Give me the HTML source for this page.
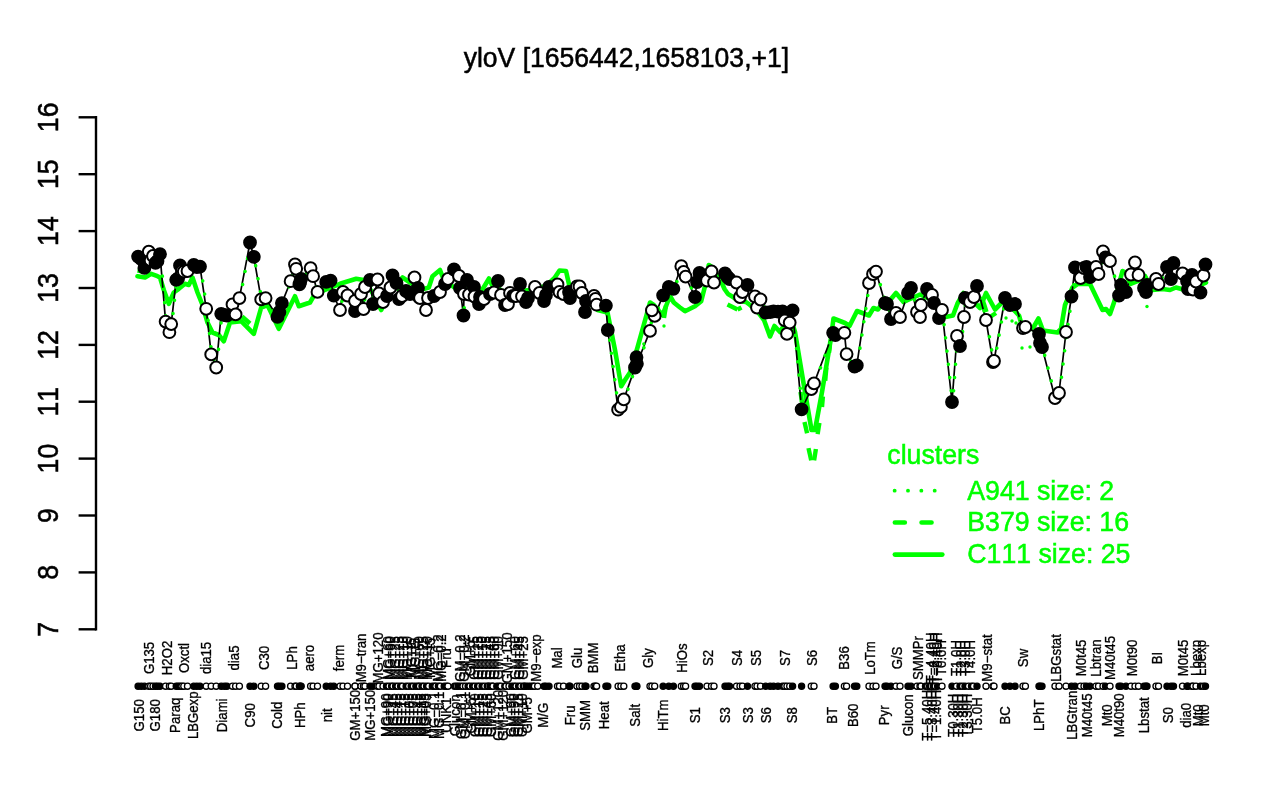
<!DOCTYPE html>
<html lang="en"><head><meta charset="utf-8"><title>yloV [1656442,1658103,+1]</title>
<style>html,body{margin:0;padding:0;background:#fff;overflow:hidden}svg{display:block}text{font-family:"Liberation Sans",sans-serif;font-kerning:none}</style></head><body>
<svg width="1280" height="800" viewBox="0 0 1280 800">
<rect width="1280" height="800" fill="#fff"/>
<text transform="translate(626.4 67.2) scale(1 1.05)" font-size="26.55" text-anchor="middle" fill="#000" stroke="#000" stroke-width="0.5">yloV [1656442,1658103,+1]</text>
<g stroke="#000" stroke-width="2.4" fill="none" stroke-linecap="butt">
<path d="M96 116.1V630.5"/>
<path d="M78.6 629.3H96"/>
<path d="M78.6 572.4H96"/>
<path d="M78.6 515.5H96"/>
<path d="M78.6 458.6H96"/>
<path d="M78.6 401.7H96"/>
<path d="M78.6 344.9H96"/>
<path d="M78.6 288.0H96"/>
<path d="M78.6 231.1H96"/>
<path d="M78.6 174.2H96"/>
<path d="M78.6 117.3H96"/>
</g>
<g font-size="26.7" text-anchor="middle" fill="#000" stroke="#000" stroke-width="0.5">
<text transform="translate(58.4 629.3) rotate(-90) scale(1 1.07)">7</text>
<text transform="translate(58.4 572.4) rotate(-90) scale(1 1.07)">8</text>
<text transform="translate(58.4 515.5) rotate(-90) scale(1 1.07)">9</text>
<text transform="translate(58.4 458.6) rotate(-90) scale(1 1.07)">10</text>
<text transform="translate(58.4 401.7) rotate(-90) scale(1 1.07)">11</text>
<text transform="translate(58.4 344.9) rotate(-90) scale(1 1.07)">12</text>
<text transform="translate(58.4 288.0) rotate(-90) scale(1 1.07)">13</text>
<text transform="translate(58.4 231.1) rotate(-90) scale(1 1.07)">14</text>
<text transform="translate(58.4 174.2) rotate(-90) scale(1 1.07)">15</text>
<text transform="translate(58.4 117.3) rotate(-90) scale(1 1.07)">16</text>
</g>
<polyline points="137.5,276.2 145.0,277.5 151.2,273.8 157.5,276.2 160.0,277.5 163.8,290.0 168.8,303.8 173.8,292.5 178.8,288.8 185.0,283.8 188.8,285.0 192.5,277.5 197.5,292.5 202.5,305.0 207.5,322.5 212.5,332.5 218.8,335.0 223.8,341.2 230.0,322.5 241.2,321.2 253.8,333.8 261.2,307.5 267.5,305.0 278.8,328.8 295.0,296.2 298.8,306.2 310.0,302.5 315.0,293.8 327.5,288.8 340.0,283.8 356.2,278.8 363.8,280.0 372.0,292.0 381.2,310.0 385.0,302.5 393.0,288.0 402.5,277.5 410.0,282.5 420.0,290.0 428.8,287.5 432.5,276.2 440.0,270.0 443.8,280.0 455.0,288.0 470.0,290.0 481.5,291.0 489.0,278.5 492.0,285.0 495.0,290.0 510.0,292.0 530.0,290.0 546.0,286.0 554.5,278.0 559.5,270.5 566.0,271.0 569.5,286.5 585.0,300.0 597.5,310.0 607.5,312.5 615.0,350.0 621.2,386.2 625.0,380.0 630.0,372.5 637.5,347.5 650.0,302.5 653.8,305.0 662.5,315.0 670.0,296.0 673.8,302.5 680.0,307.5 685.0,311.2 695.0,306.2 701.2,301.2 705.0,286.2 708.8,265.0 712.5,267.5 721.0,281.0 724.5,289.0 728.0,294.0 733.0,297.0 738.0,301.0 746.0,302.0 750.0,305.0 758.0,312.0 764.0,320.0 770.0,336.5 774.5,326.0 780.0,332.0 786.0,322.0 792.5,324.0 795.0,332.0 803.0,380.0 811.5,430.0 815.0,430.0 822.0,392.0 831.0,338.0 833.5,318.5 845.0,323.0 849.5,326.0 857.0,311.0 869.0,315.5 873.5,308.0 878.0,309.5 884.0,300.5 888.5,302.0 896.0,293.0 903.5,302.0 920.0,294.5 932.0,300.0 945.5,317.0 953.0,315.5 957.5,303.5 963.5,293.0 972.0,300.0 980.0,308.0 986.0,293.0 995.0,309.5 1002.5,302.0 1010.0,306.0 1019.0,315.5 1022.0,326.0 1032.5,329.0 1038.5,318.5 1043.0,330.5 1057.5,332.5 1061.0,329.0 1065.0,305.0 1072.5,287.5 1077.5,284.0 1090.0,284.0 1102.5,310.0 1106.0,309.0 1110.0,314.0 1114.0,302.5 1122.5,271.0 1126.0,272.5 1130.0,284.0 1140.0,280.0 1145.0,276.0 1152.5,290.0 1162.5,289.0 1170.0,290.0 1176.0,287.5 1185.0,290.0 1195.0,287.0 1206.0,282.5" fill="none" stroke="#00ff00" stroke-width="4.6" stroke-linejoin="round" stroke-linecap="round"/>
<g stroke="#00ff00" stroke-width="4.4" fill="none" stroke-linecap="butt">
<path d="M804.5 421.9L807.1 433.3"/>
<path d="M808.5 448.1L811.2 460.4"/>
<path d="M815.9 449L814.1 460.4"/>
<path d="M819.4 422.8L817.6 434.1"/>
<path d="M822.9 396.5L822 407"/>
<path d="M826.4 367.6L825.2 380.8"/>
<path d="M829.9 345.8L829 352.8"/>
<path d="M800.5 392L802.3 404"/>
<path d="M727.5 304.5L737.5 309.5"/>
<path d="M737.5 309.5L741.5 307.5"/>
<path d="M137.5 270.5L147 272"/>
<path d="M242 316.5L250 323.5"/>
<path d="M666 305.6L664 318"/>
<path d="M983 301L986.5 312"/>
<path d="M990 317L996 313"/>
</g>
<polyline points="138.1,256.6 141.2,259.1 144.4,267.9 148.8,251.6 150.6,260.4 153.0,256.0 155.5,262.9 157.5,261.0 160.0,254.1 165.6,321.6 169.4,332.2 171.2,324.1 176.2,279.8 178.1,278.5 180.0,265.4 181.9,271.0 183.8,271.6 187.5,271.0 193.8,264.8 196.9,267.2 200.0,266.6 206.2,308.8 211.2,354.4 216.2,367.5 221.2,313.8 224.4,315.0 226.9,315.6 232.5,304.4 235.6,314.4 239.4,298.1 250.0,242.5 253.8,256.9 261.2,299.4 265.6,298.1 277.5,316.9 279.4,311.9 281.9,303.1 290.6,281.2 295.0,264.4 296.2,268.8 299.4,284.4 300.2,281.9 301.2,278.8 310.6,268.1 313.1,276.2 317.5,291.9 326.2,281.9 330.6,280.6 333.8,295.6 340.0,310.0 343.0,292.0 347.5,295.5 355.0,311.0 355.0,301.0 361.0,294.0 363.5,309.0 365.0,287.0 370.0,280.0 373.0,304.0 377.5,279.5 379.0,293.5 383.0,302.0 387.0,296.0 390.5,287.5 392.5,275.5 396.5,283.0 399.0,299.0 402.0,296.0 406.0,291.0 410.0,294.0 414.5,277.5 418.0,288.0 419.0,297.0 420.0,298.0 426.0,310.0 428.0,298.0 434.0,296.0 440.0,292.0 445.0,284.0 448.0,279.0 454.0,269.5 459.0,276.0 460.0,288.0 463.5,315.5 464.0,294.0 467.0,280.0 469.0,294.5 474.0,287.0 474.5,296.5 479.0,304.0 480.0,297.0 484.0,299.0 490.0,294.0 494.0,292.5 498.0,281.0 501.0,295.0 505.0,305.0 508.0,304.0 510.0,293.0 513.0,296.0 516.0,296.0 520.0,284.0 522.0,296.5 526.0,302.0 528.0,298.0 535.0,287.0 539.5,293.0 544.0,301.0 546.0,295.0 549.0,287.0 557.5,284.5 559.5,292.0 563.5,294.0 569.0,292.0 570.0,298.0 577.0,286.5 579.5,286.5 582.0,293.0 585.0,312.0 586.0,301.0 594.0,296.0 595.5,299.0 596.6,304.7 605.9,305.6 607.8,330.0 618.1,409.7 620.9,406.9 623.8,399.4 635.0,367.5 636.5,357.2 636.9,363.8 650.0,330.9 651.9,310.3 654.7,315.9 663.1,295.3 668.8,286.9 673.4,288.8 681.3,266.2 683.6,271.9 685.6,276.6 695.0,297.0 697.0,282.0 699.5,273.0 707.0,280.5 711.5,271.5 714.0,282.5 725.0,273.5 727.5,277.0 729.5,279.0 736.5,282.5 740.0,297.0 742.5,292.0 747.5,285.0 755.0,296.5 757.0,307.5 760.5,299.5 765.6,312.5 770.1,312.1 773.5,311.4 778.0,311.6 782.5,311.4 784.8,320.4 787.0,333.9 789.7,322.6 792.6,310.3 801.6,409.3 811.3,389.0 814.0,383.4 833.1,332.8 835.4,335.0 844.4,332.8 846.6,354.1 854.5,366.5 856.8,365.4 869.0,283.0 873.0,274.0 876.0,271.6 885.0,303.0 887.0,304.0 891.0,319.0 896.0,313.0 900.0,317.0 908.0,293.0 911.0,288.0 917.0,312.0 920.0,317.0 921.0,305.0 927.0,289.0 932.0,295.0 934.0,303.0 939.0,318.0 942.0,310.0 952.0,402.0 957.0,336.0 960.0,346.0 964.0,317.0 965.0,298.0 970.0,302.0 974.0,297.0 977.0,286.0 986.0,320.0 993.0,362.0 994.0,361.0 1005.0,298.0 1010.0,305.0 1015.0,304.0 1023.0,328.0 1025.4,327.0 1039.0,334.0 1040.0,343.0 1042.0,347.0 1055.0,398.0 1059.0,393.0 1066.0,332.0 1071.5,296.5 1075.0,267.5 1080.5,278.0 1084.0,268.0 1086.5,267.0 1090.0,277.0 1096.0,267.0 1098.5,274.0 1103.0,251.5 1105.5,257.5 1110.0,261.0 1119.0,295.5 1121.0,285.0 1126.0,292.0 1131.0,274.5 1135.0,262.5 1138.5,275.0 1144.0,288.0 1146.0,292.0 1147.0,285.0 1156.0,279.0 1158.5,284.0 1167.0,267.0 1171.0,279.0 1173.5,263.0 1182.5,273.5 1187.0,281.0 1188.0,289.0 1192.0,275.0 1193.0,289.5 1196.0,281.5 1200.5,292.5 1203.5,275.5 1205.5,264.5" fill="none" stroke="#000" stroke-width="1.7" stroke-linejoin="round"/>
<polyline points="138.7,256.6 141.8,259.1 145.0,267.9 149.4,253.6 151.2,260.4 153.6,256.0 156.1,262.9 158.1,261.0 160.6,254.1 166.2,321.6 170.0,334.2 171.8,324.1 176.8,279.8 178.7,278.5 180.6,265.4 182.5,271.0 184.4,271.6 188.1,273.0 194.4,264.8 197.5,267.2 200.6,266.6 206.8,308.8 211.8,354.4 216.8,367.5 221.8,315.8 225.0,315.0 227.5,315.6 233.1,304.4 236.2,314.4 240.0,298.1 250.6,242.5 254.4,258.9 261.8,299.4 266.2,298.1 278.1,316.9 280.0,311.9 282.5,303.1 291.2,281.2 295.6,266.4 296.8,268.8 300.0,284.4 300.8,281.9 301.8,278.8 311.2,268.1 313.7,276.2 318.1,293.9 326.8,281.9 331.2,280.6 334.4,295.6 340.6,310.0 343.6,292.0 348.1,295.5 355.6,313.0 355.6,301.0 361.6,294.0 364.1,309.0 365.6,287.0 370.6,280.0 373.6,304.0 378.1,281.5 379.6,293.5 383.6,302.0 387.6,296.0 391.1,287.5 393.1,275.5 397.1,283.0 399.6,301.0 402.6,296.0 406.6,291.0 410.6,294.0 415.1,277.5 418.6,288.0 419.6,297.0 420.6,300.0 426.6,310.0 428.6,298.0 434.6,296.0 440.6,292.0 445.6,284.0 448.6,279.0 454.6,271.5 459.6,276.0 460.6,288.0 464.1,315.5 464.6,294.0 467.6,280.0 469.6,294.5 474.6,289.0 475.1,296.5 479.6,304.0 480.6,297.0 484.6,299.0 490.6,294.0 494.6,292.5 498.6,283.0 501.6,295.0 505.6,305.0 508.6,304.0 510.6,293.0 513.6,296.0 516.6,296.0 520.6,286.0 522.6,296.5 526.6,302.0 528.6,298.0 535.6,287.0 540.1,293.0 544.6,301.0 546.6,297.0 549.6,287.0 558.1,284.5 560.1,292.0 564.1,294.0 569.6,292.0 570.6,298.0 577.6,288.5 580.1,286.5 582.6,293.0 585.6,312.0 586.6,301.0 594.6,296.0 596.1,299.0 597.2,306.7 606.5,305.6 608.4,330.0 618.7,409.7 621.5,406.9 624.4,399.4 635.6,367.5 637.1,359.2 637.5,363.8 650.6,330.9 652.5,310.3 655.3,315.9 663.7,295.3 669.4,286.9 674.0,290.8 681.9,266.2 684.2,271.9 686.2,276.6 695.6,297.0 697.6,282.0 700.1,273.0 707.6,282.5 712.1,271.5 714.6,282.5 725.6,273.5 728.1,277.0 730.1,279.0 737.1,282.5 740.6,299.0 743.1,292.0 748.1,285.0 755.6,296.5 757.6,307.5 761.1,299.5 766.2,312.5 770.7,314.1 774.1,311.4 778.6,311.6 783.1,311.4 785.4,320.4 787.6,333.9 790.3,322.6 793.2,312.3 802.2,409.3 811.9,389.0 814.6,383.4 833.7,332.8 836.0,335.0 845.0,332.8 847.2,356.1 855.1,366.5 857.4,365.4 869.6,283.0 873.6,274.0 876.6,271.6 885.6,303.0 887.6,306.0 891.6,319.0 896.6,313.0 900.6,317.0 908.6,293.0 911.6,288.0 917.6,312.0 920.6,319.0 921.6,305.0 927.6,289.0 932.6,295.0 934.6,303.0 939.6,318.0 942.6,310.0 952.6,404.0 957.6,336.0 960.6,346.0 964.6,317.0 965.6,298.0 970.6,302.0 974.6,297.0 977.6,288.0 986.6,320.0 993.6,362.0 994.6,361.0 1005.6,298.0 1010.6,305.0 1015.6,304.0 1023.6,330.0 1026.0,327.0 1039.6,334.0 1040.6,343.0 1042.6,347.0 1055.6,398.0 1059.6,393.0 1066.6,334.0 1072.1,296.5 1075.6,267.5 1081.1,278.0 1084.6,268.0 1087.1,267.0 1090.6,277.0 1096.6,269.0 1099.1,274.0 1103.6,251.5 1106.1,257.5 1110.6,261.0 1119.6,295.5 1121.6,285.0 1126.6,294.0 1131.6,274.5 1135.6,262.5 1139.1,275.0 1144.6,288.0 1146.6,292.0 1147.6,285.0 1156.6,281.0 1159.1,284.0 1167.6,267.0 1171.6,279.0 1174.1,263.0 1183.1,273.5 1187.6,281.0 1188.6,291.0 1192.6,275.0 1193.6,289.5 1196.6,281.5 1201.1,292.5 1204.1,275.5 1206.1,264.5" fill="none" stroke="#00ff00" stroke-width="3.5" stroke-dasharray="0.1 13.2" stroke-linecap="round" stroke-linejoin="round"/>
<circle cx="1006" cy="318" r="1.7" fill="#00ff00"/>
<circle cx="1012" cy="321" r="1.7" fill="#00ff00"/>
<circle cx="1016" cy="323" r="1.7" fill="#00ff00"/>
<circle cx="1022" cy="348" r="1.7" fill="#00ff00"/>
<circle cx="1030" cy="347" r="1.7" fill="#00ff00"/>
<circle cx="1147" cy="306.5" r="1.7" fill="#00ff00"/>
<circle cx="664" cy="326" r="1.7" fill="#00ff00"/>
<circle cx="643.8" cy="344" r="1.7" fill="#00ff00"/>
<g stroke="#000" stroke-width="2">
<circle cx="138.1" cy="256.6" r="5.9" fill="#000"/>
<circle cx="141.2" cy="259.1" r="5.9" fill="#000"/>
<circle cx="144.4" cy="267.9" r="5.9" fill="#000"/>
<circle cx="148.8" cy="251.6" r="5.9" fill="#fff"/>
<circle cx="150.6" cy="260.4" r="5.9" fill="#fff"/>
<circle cx="153.0" cy="256.0" r="5.9" fill="#fff"/>
<circle cx="155.5" cy="262.9" r="5.9" fill="#000"/>
<circle cx="157.5" cy="261.0" r="5.9" fill="#000"/>
<circle cx="160.0" cy="254.1" r="5.9" fill="#000"/>
<circle cx="165.6" cy="321.6" r="5.9" fill="#fff"/>
<circle cx="169.4" cy="332.2" r="5.9" fill="#fff"/>
<circle cx="171.2" cy="324.1" r="5.9" fill="#fff"/>
<circle cx="176.2" cy="279.8" r="5.9" fill="#000"/>
<circle cx="178.1" cy="278.5" r="5.9" fill="#000"/>
<circle cx="180.0" cy="265.4" r="5.9" fill="#000"/>
<circle cx="181.9" cy="271.0" r="5.9" fill="#fff"/>
<circle cx="183.8" cy="271.6" r="5.9" fill="#fff"/>
<circle cx="187.5" cy="271.0" r="5.9" fill="#fff"/>
<circle cx="193.8" cy="264.8" r="5.9" fill="#000"/>
<circle cx="196.9" cy="267.2" r="5.9" fill="#000"/>
<circle cx="200.0" cy="266.6" r="5.9" fill="#000"/>
<circle cx="206.2" cy="308.8" r="5.9" fill="#fff"/>
<circle cx="211.2" cy="354.4" r="5.9" fill="#fff"/>
<circle cx="216.2" cy="367.5" r="5.9" fill="#fff"/>
<circle cx="221.2" cy="313.8" r="5.9" fill="#000"/>
<circle cx="224.4" cy="315.0" r="5.9" fill="#000"/>
<circle cx="226.9" cy="315.6" r="5.9" fill="#000"/>
<circle cx="232.5" cy="304.4" r="5.9" fill="#fff"/>
<circle cx="235.6" cy="314.4" r="5.9" fill="#fff"/>
<circle cx="239.4" cy="298.1" r="5.9" fill="#fff"/>
<circle cx="250.0" cy="242.5" r="5.9" fill="#000"/>
<circle cx="253.8" cy="256.9" r="5.9" fill="#000"/>
<circle cx="261.2" cy="299.4" r="5.9" fill="#fff"/>
<circle cx="265.6" cy="298.1" r="5.9" fill="#fff"/>
<circle cx="277.5" cy="316.9" r="5.9" fill="#000"/>
<circle cx="279.4" cy="311.9" r="5.9" fill="#000"/>
<circle cx="281.9" cy="303.1" r="5.9" fill="#000"/>
<circle cx="290.6" cy="281.2" r="5.9" fill="#fff"/>
<circle cx="295.0" cy="264.4" r="5.9" fill="#fff"/>
<circle cx="296.2" cy="268.8" r="5.9" fill="#fff"/>
<circle cx="299.4" cy="284.4" r="5.9" fill="#000"/>
<circle cx="300.2" cy="281.9" r="5.9" fill="#000"/>
<circle cx="301.2" cy="278.8" r="5.9" fill="#000"/>
<circle cx="310.6" cy="268.1" r="5.9" fill="#fff"/>
<circle cx="313.1" cy="276.2" r="5.9" fill="#fff"/>
<circle cx="317.5" cy="291.9" r="5.9" fill="#fff"/>
<circle cx="326.2" cy="281.9" r="5.9" fill="#000"/>
<circle cx="330.6" cy="280.6" r="5.9" fill="#000"/>
<circle cx="333.8" cy="295.6" r="5.9" fill="#000"/>
<circle cx="340.0" cy="310.0" r="5.9" fill="#fff"/>
<circle cx="343.0" cy="292.0" r="5.9" fill="#fff"/>
<circle cx="347.5" cy="295.5" r="5.9" fill="#fff"/>
<circle cx="355.0" cy="311.0" r="5.9" fill="#000"/>
<circle cx="355.0" cy="301.0" r="5.9" fill="#fff"/>
<circle cx="361.0" cy="294.0" r="5.9" fill="#fff"/>
<circle cx="363.5" cy="309.0" r="5.9" fill="#fff"/>
<circle cx="365.0" cy="287.0" r="5.9" fill="#fff"/>
<circle cx="370.0" cy="280.0" r="5.9" fill="#000"/>
<circle cx="373.0" cy="304.0" r="5.9" fill="#000"/>
<circle cx="377.5" cy="279.5" r="5.9" fill="#fff"/>
<circle cx="379.0" cy="293.5" r="5.9" fill="#fff"/>
<circle cx="383.0" cy="302.0" r="5.9" fill="#fff"/>
<circle cx="387.0" cy="296.0" r="5.9" fill="#000"/>
<circle cx="390.5" cy="287.5" r="5.9" fill="#fff"/>
<circle cx="392.5" cy="275.5" r="5.9" fill="#000"/>
<circle cx="396.5" cy="283.0" r="5.9" fill="#000"/>
<circle cx="399.0" cy="299.0" r="5.9" fill="#000"/>
<circle cx="402.0" cy="296.0" r="5.9" fill="#fff"/>
<circle cx="406.0" cy="291.0" r="5.9" fill="#000"/>
<circle cx="410.0" cy="294.0" r="5.9" fill="#000"/>
<circle cx="414.5" cy="277.5" r="5.9" fill="#fff"/>
<circle cx="418.0" cy="288.0" r="5.9" fill="#000"/>
<circle cx="419.0" cy="297.0" r="5.9" fill="#000"/>
<circle cx="420.0" cy="298.0" r="5.9" fill="#fff"/>
<circle cx="426.0" cy="310.0" r="5.9" fill="#fff"/>
<circle cx="428.0" cy="298.0" r="5.9" fill="#fff"/>
<circle cx="434.0" cy="296.0" r="5.9" fill="#000"/>
<circle cx="440.0" cy="292.0" r="5.9" fill="#fff"/>
<circle cx="445.0" cy="284.0" r="5.9" fill="#000"/>
<circle cx="448.0" cy="279.0" r="5.9" fill="#fff"/>
<circle cx="454.0" cy="269.5" r="5.9" fill="#000"/>
<circle cx="459.0" cy="276.0" r="5.9" fill="#fff"/>
<circle cx="460.0" cy="288.0" r="5.9" fill="#000"/>
<circle cx="463.5" cy="315.5" r="5.9" fill="#000"/>
<circle cx="464.0" cy="294.0" r="5.9" fill="#fff"/>
<circle cx="467.0" cy="280.0" r="5.9" fill="#000"/>
<circle cx="469.0" cy="294.5" r="5.9" fill="#fff"/>
<circle cx="474.0" cy="287.0" r="5.9" fill="#000"/>
<circle cx="474.5" cy="296.5" r="5.9" fill="#fff"/>
<circle cx="479.0" cy="304.0" r="5.9" fill="#000"/>
<circle cx="480.0" cy="297.0" r="5.9" fill="#000"/>
<circle cx="484.0" cy="299.0" r="5.9" fill="#fff"/>
<circle cx="490.0" cy="294.0" r="5.9" fill="#000"/>
<circle cx="494.0" cy="292.5" r="5.9" fill="#fff"/>
<circle cx="498.0" cy="281.0" r="5.9" fill="#000"/>
<circle cx="501.0" cy="295.0" r="5.9" fill="#fff"/>
<circle cx="505.0" cy="305.0" r="5.9" fill="#000"/>
<circle cx="508.0" cy="304.0" r="5.9" fill="#fff"/>
<circle cx="510.0" cy="293.0" r="5.9" fill="#fff"/>
<circle cx="513.0" cy="296.0" r="5.9" fill="#000"/>
<circle cx="516.0" cy="296.0" r="5.9" fill="#fff"/>
<circle cx="520.0" cy="284.0" r="5.9" fill="#000"/>
<circle cx="522.0" cy="296.5" r="5.9" fill="#fff"/>
<circle cx="526.0" cy="302.0" r="5.9" fill="#000"/>
<circle cx="528.0" cy="298.0" r="5.9" fill="#000"/>
<circle cx="535.0" cy="287.0" r="5.9" fill="#fff"/>
<circle cx="539.5" cy="293.0" r="5.9" fill="#fff"/>
<circle cx="544.0" cy="301.0" r="5.9" fill="#000"/>
<circle cx="546.0" cy="295.0" r="5.9" fill="#000"/>
<circle cx="549.0" cy="287.0" r="5.9" fill="#000"/>
<circle cx="557.5" cy="284.5" r="5.9" fill="#fff"/>
<circle cx="559.5" cy="292.0" r="5.9" fill="#fff"/>
<circle cx="563.5" cy="294.0" r="5.9" fill="#fff"/>
<circle cx="569.0" cy="292.0" r="5.9" fill="#000"/>
<circle cx="570.0" cy="298.0" r="5.9" fill="#000"/>
<circle cx="577.0" cy="286.5" r="5.9" fill="#fff"/>
<circle cx="579.5" cy="286.5" r="5.9" fill="#fff"/>
<circle cx="582.0" cy="293.0" r="5.9" fill="#fff"/>
<circle cx="585.0" cy="312.0" r="5.9" fill="#000"/>
<circle cx="586.0" cy="301.0" r="5.9" fill="#000"/>
<circle cx="594.0" cy="296.0" r="5.9" fill="#fff"/>
<circle cx="595.5" cy="299.0" r="5.9" fill="#fff"/>
<circle cx="596.6" cy="304.7" r="5.9" fill="#fff"/>
<circle cx="605.9" cy="305.6" r="5.9" fill="#000"/>
<circle cx="607.8" cy="330.0" r="5.9" fill="#000"/>
<circle cx="618.1" cy="409.7" r="5.9" fill="#fff"/>
<circle cx="620.9" cy="406.9" r="5.9" fill="#fff"/>
<circle cx="623.8" cy="399.4" r="5.9" fill="#fff"/>
<circle cx="635.0" cy="367.5" r="5.9" fill="#000"/>
<circle cx="636.9" cy="363.8" r="5.9" fill="#000"/>
<circle cx="636.5" cy="357.2" r="5.9" fill="#000"/>
<circle cx="650.0" cy="330.9" r="5.9" fill="#fff"/>
<circle cx="654.7" cy="315.9" r="5.9" fill="#fff"/>
<circle cx="651.9" cy="310.3" r="5.9" fill="#fff"/>
<circle cx="663.1" cy="295.3" r="5.9" fill="#000"/>
<circle cx="668.8" cy="286.9" r="5.9" fill="#000"/>
<circle cx="673.4" cy="288.8" r="5.9" fill="#000"/>
<circle cx="681.3" cy="266.2" r="5.9" fill="#fff"/>
<circle cx="683.6" cy="271.9" r="5.9" fill="#fff"/>
<circle cx="685.6" cy="276.6" r="5.9" fill="#fff"/>
<circle cx="695.0" cy="297.0" r="5.9" fill="#000"/>
<circle cx="697.0" cy="282.0" r="5.9" fill="#000"/>
<circle cx="699.5" cy="273.0" r="5.9" fill="#000"/>
<circle cx="707.0" cy="280.5" r="5.9" fill="#fff"/>
<circle cx="711.5" cy="271.5" r="5.9" fill="#fff"/>
<circle cx="714.0" cy="282.5" r="5.9" fill="#fff"/>
<circle cx="725.0" cy="273.5" r="5.9" fill="#000"/>
<circle cx="727.5" cy="277.0" r="5.9" fill="#000"/>
<circle cx="729.5" cy="279.0" r="5.9" fill="#000"/>
<circle cx="736.5" cy="282.5" r="5.9" fill="#fff"/>
<circle cx="740.0" cy="297.0" r="5.9" fill="#fff"/>
<circle cx="742.5" cy="292.0" r="5.9" fill="#fff"/>
<circle cx="747.5" cy="285.0" r="5.9" fill="#000"/>
<circle cx="755.0" cy="296.5" r="5.9" fill="#fff"/>
<circle cx="757.0" cy="307.5" r="5.9" fill="#fff"/>
<circle cx="760.5" cy="299.5" r="5.9" fill="#fff"/>
<circle cx="765.6" cy="312.5" r="5.9" fill="#000"/>
<circle cx="770.1" cy="312.1" r="5.9" fill="#000"/>
<circle cx="773.5" cy="311.4" r="5.9" fill="#000"/>
<circle cx="778.0" cy="311.6" r="5.9" fill="#000"/>
<circle cx="782.5" cy="311.4" r="5.9" fill="#000"/>
<circle cx="792.6" cy="310.3" r="5.9" fill="#000"/>
<circle cx="784.8" cy="320.4" r="5.9" fill="#fff"/>
<circle cx="787.0" cy="333.9" r="5.9" fill="#fff"/>
<circle cx="789.7" cy="322.6" r="5.9" fill="#fff"/>
<circle cx="801.6" cy="409.3" r="5.9" fill="#000"/>
<circle cx="811.3" cy="389.0" r="5.9" fill="#fff"/>
<circle cx="814.0" cy="383.4" r="5.9" fill="#fff"/>
<circle cx="833.1" cy="332.8" r="5.9" fill="#000"/>
<circle cx="835.4" cy="335.0" r="5.9" fill="#000"/>
<circle cx="844.4" cy="332.8" r="5.9" fill="#fff"/>
<circle cx="846.6" cy="354.1" r="5.9" fill="#fff"/>
<circle cx="854.5" cy="366.5" r="5.9" fill="#000"/>
<circle cx="856.8" cy="365.4" r="5.9" fill="#000"/>
<circle cx="869.0" cy="283.0" r="5.9" fill="#fff"/>
<circle cx="873.0" cy="274.0" r="5.9" fill="#fff"/>
<circle cx="876.0" cy="271.6" r="5.9" fill="#fff"/>
<circle cx="885.0" cy="303.0" r="5.9" fill="#000"/>
<circle cx="887.0" cy="304.0" r="5.9" fill="#000"/>
<circle cx="891.0" cy="319.0" r="5.9" fill="#000"/>
<circle cx="896.0" cy="313.0" r="5.9" fill="#fff"/>
<circle cx="900.0" cy="317.0" r="5.9" fill="#fff"/>
<circle cx="908.0" cy="293.0" r="5.9" fill="#000"/>
<circle cx="911.0" cy="288.0" r="5.9" fill="#000"/>
<circle cx="917.0" cy="312.0" r="5.9" fill="#fff"/>
<circle cx="921.0" cy="305.0" r="5.9" fill="#fff"/>
<circle cx="920.0" cy="317.0" r="5.9" fill="#fff"/>
<circle cx="927.0" cy="289.0" r="5.9" fill="#000"/>
<circle cx="932.0" cy="295.0" r="5.9" fill="#fff"/>
<circle cx="934.0" cy="303.0" r="5.9" fill="#000"/>
<circle cx="939.0" cy="318.0" r="5.9" fill="#000"/>
<circle cx="942.0" cy="310.0" r="5.9" fill="#fff"/>
<circle cx="952.0" cy="402.0" r="5.9" fill="#000"/>
<circle cx="957.0" cy="336.0" r="5.9" fill="#fff"/>
<circle cx="960.0" cy="346.0" r="5.9" fill="#000"/>
<circle cx="964.0" cy="317.0" r="5.9" fill="#fff"/>
<circle cx="965.0" cy="298.0" r="5.9" fill="#000"/>
<circle cx="970.0" cy="302.0" r="5.9" fill="#fff"/>
<circle cx="974.0" cy="297.0" r="5.9" fill="#fff"/>
<circle cx="977.0" cy="286.0" r="5.9" fill="#000"/>
<circle cx="986.0" cy="320.0" r="5.9" fill="#fff"/>
<circle cx="993.0" cy="362.0" r="5.9" fill="#fff"/>
<circle cx="994.0" cy="361.0" r="5.9" fill="#fff"/>
<circle cx="1005.0" cy="298.0" r="5.9" fill="#000"/>
<circle cx="1010.0" cy="305.0" r="5.9" fill="#000"/>
<circle cx="1015.0" cy="304.0" r="5.9" fill="#000"/>
<circle cx="1023.0" cy="328.0" r="5.9" fill="#fff"/>
<circle cx="1025.4" cy="327.0" r="5.9" fill="#fff"/>
<circle cx="1039.0" cy="334.0" r="5.9" fill="#000"/>
<circle cx="1040.0" cy="343.0" r="5.9" fill="#000"/>
<circle cx="1042.0" cy="347.0" r="5.9" fill="#000"/>
<circle cx="1055.0" cy="398.0" r="5.9" fill="#fff"/>
<circle cx="1059.0" cy="393.0" r="5.9" fill="#fff"/>
<circle cx="1066.0" cy="332.0" r="5.9" fill="#fff"/>
<circle cx="1071.5" cy="296.5" r="5.9" fill="#000"/>
<circle cx="1075.0" cy="267.5" r="5.9" fill="#000"/>
<circle cx="1080.5" cy="278.0" r="5.9" fill="#fff"/>
<circle cx="1084.0" cy="268.0" r="5.9" fill="#fff"/>
<circle cx="1086.5" cy="267.0" r="5.9" fill="#000"/>
<circle cx="1090.0" cy="277.0" r="5.9" fill="#000"/>
<circle cx="1096.0" cy="267.0" r="5.9" fill="#fff"/>
<circle cx="1098.5" cy="274.0" r="5.9" fill="#fff"/>
<circle cx="1103.0" cy="251.5" r="5.9" fill="#fff"/>
<circle cx="1105.5" cy="257.5" r="5.9" fill="#000"/>
<circle cx="1110.0" cy="261.0" r="5.9" fill="#fff"/>
<circle cx="1119.0" cy="295.5" r="5.9" fill="#000"/>
<circle cx="1121.0" cy="285.0" r="5.9" fill="#000"/>
<circle cx="1126.0" cy="292.0" r="5.9" fill="#000"/>
<circle cx="1131.0" cy="274.5" r="5.9" fill="#fff"/>
<circle cx="1135.0" cy="262.5" r="5.9" fill="#fff"/>
<circle cx="1138.5" cy="275.0" r="5.9" fill="#fff"/>
<circle cx="1144.0" cy="288.0" r="5.9" fill="#000"/>
<circle cx="1146.0" cy="292.0" r="5.9" fill="#000"/>
<circle cx="1147.0" cy="285.0" r="5.9" fill="#000"/>
<circle cx="1156.0" cy="279.0" r="5.9" fill="#fff"/>
<circle cx="1158.5" cy="284.0" r="5.9" fill="#fff"/>
<circle cx="1167.0" cy="267.0" r="5.9" fill="#000"/>
<circle cx="1171.0" cy="279.0" r="5.9" fill="#000"/>
<circle cx="1173.5" cy="263.0" r="5.9" fill="#000"/>
<circle cx="1182.5" cy="273.5" r="5.9" fill="#fff"/>
<circle cx="1187.0" cy="281.0" r="5.9" fill="#000"/>
<circle cx="1188.0" cy="289.0" r="5.9" fill="#000"/>
<circle cx="1192.0" cy="275.0" r="5.9" fill="#000"/>
<circle cx="1193.0" cy="289.5" r="5.9" fill="#fff"/>
<circle cx="1196.0" cy="281.5" r="5.9" fill="#fff"/>
<circle cx="1200.5" cy="292.5" r="5.9" fill="#000"/>
<circle cx="1203.5" cy="275.5" r="5.9" fill="#fff"/>
<circle cx="1205.5" cy="264.5" r="5.9" fill="#000"/>
</g>
<g fill="#00ff00" font-size="26.7" stroke="#00ff00" stroke-width="0.5">
<text transform="translate(887.3 464.4) scale(1 1.04)">clusters</text>
<text transform="translate(967.3 499.6) scale(1 1.04)">A941 size: 2</text>
<text transform="translate(967.3 531.4) scale(1 1.04)">B379 size: 16</text>
<text transform="translate(967.3 563.1) scale(1 1.04)">C111 size: 25</text>
</g>
<g stroke="#00ff00" fill="none" stroke-linecap="round">
<path d="M894.6 490.7H943" stroke-width="3.8" stroke-dasharray="0.1 13.25"/>
<path d="M894.9 522.5H942" stroke-width="4.7" stroke-dasharray="9.9 16.8"/>
<path d="M894.9 554.6H942.3" stroke-width="4.7"/>
</g>
<g stroke="#000" stroke-width="1.3">
<circle cx="138.1" cy="686.2" r="3.05" fill="#000"/>
<circle cx="141.2" cy="686.2" r="3.05" fill="#000"/>
<circle cx="144.4" cy="686.2" r="3.05" fill="#000"/>
<circle cx="148.8" cy="686.2" r="3.05" fill="#fff"/>
<circle cx="150.6" cy="686.2" r="3.05" fill="#fff"/>
<circle cx="153.0" cy="686.2" r="3.05" fill="#fff"/>
<circle cx="155.5" cy="686.2" r="3.05" fill="#000"/>
<circle cx="157.5" cy="686.2" r="3.05" fill="#000"/>
<circle cx="160.0" cy="686.2" r="3.05" fill="#000"/>
<circle cx="165.6" cy="686.2" r="3.05" fill="#fff"/>
<circle cx="169.4" cy="686.2" r="3.05" fill="#fff"/>
<circle cx="171.2" cy="686.2" r="3.05" fill="#fff"/>
<circle cx="176.2" cy="686.2" r="3.05" fill="#000"/>
<circle cx="178.1" cy="686.2" r="3.05" fill="#000"/>
<circle cx="180.0" cy="686.2" r="3.05" fill="#000"/>
<circle cx="181.9" cy="686.2" r="3.05" fill="#fff"/>
<circle cx="183.8" cy="686.2" r="3.05" fill="#fff"/>
<circle cx="187.5" cy="686.2" r="3.05" fill="#fff"/>
<circle cx="193.8" cy="686.2" r="3.05" fill="#000"/>
<circle cx="196.9" cy="686.2" r="3.05" fill="#000"/>
<circle cx="200.0" cy="686.2" r="3.05" fill="#000"/>
<circle cx="206.2" cy="686.2" r="3.05" fill="#fff"/>
<circle cx="211.2" cy="686.2" r="3.05" fill="#fff"/>
<circle cx="216.2" cy="686.2" r="3.05" fill="#fff"/>
<circle cx="221.2" cy="686.2" r="3.05" fill="#000"/>
<circle cx="224.4" cy="686.2" r="3.05" fill="#000"/>
<circle cx="226.9" cy="686.2" r="3.05" fill="#000"/>
<circle cx="232.5" cy="686.2" r="3.05" fill="#fff"/>
<circle cx="235.6" cy="686.2" r="3.05" fill="#fff"/>
<circle cx="239.4" cy="686.2" r="3.05" fill="#fff"/>
<circle cx="250.0" cy="686.2" r="3.05" fill="#000"/>
<circle cx="253.8" cy="686.2" r="3.05" fill="#000"/>
<circle cx="261.2" cy="686.2" r="3.05" fill="#fff"/>
<circle cx="265.6" cy="686.2" r="3.05" fill="#fff"/>
<circle cx="277.5" cy="686.2" r="3.05" fill="#000"/>
<circle cx="279.4" cy="686.2" r="3.05" fill="#000"/>
<circle cx="281.9" cy="686.2" r="3.05" fill="#000"/>
<circle cx="290.6" cy="686.2" r="3.05" fill="#fff"/>
<circle cx="295.0" cy="686.2" r="3.05" fill="#fff"/>
<circle cx="296.2" cy="686.2" r="3.05" fill="#fff"/>
<circle cx="299.4" cy="686.2" r="3.05" fill="#000"/>
<circle cx="300.2" cy="686.2" r="3.05" fill="#000"/>
<circle cx="301.2" cy="686.2" r="3.05" fill="#000"/>
<circle cx="310.6" cy="686.2" r="3.05" fill="#fff"/>
<circle cx="313.1" cy="686.2" r="3.05" fill="#fff"/>
<circle cx="317.5" cy="686.2" r="3.05" fill="#fff"/>
<circle cx="326.2" cy="686.2" r="3.05" fill="#000"/>
<circle cx="330.6" cy="686.2" r="3.05" fill="#000"/>
<circle cx="333.8" cy="686.2" r="3.05" fill="#000"/>
<circle cx="340.0" cy="686.2" r="3.05" fill="#fff"/>
<circle cx="343.0" cy="686.2" r="3.05" fill="#fff"/>
<circle cx="347.5" cy="686.2" r="3.05" fill="#fff"/>
<circle cx="355.0" cy="686.2" r="3.05" fill="#000"/>
<circle cx="355.0" cy="686.2" r="3.05" fill="#fff"/>
<circle cx="361.0" cy="686.2" r="3.05" fill="#fff"/>
<circle cx="363.5" cy="686.2" r="3.05" fill="#fff"/>
<circle cx="365.0" cy="686.2" r="3.05" fill="#fff"/>
<circle cx="370.0" cy="686.2" r="3.05" fill="#000"/>
<circle cx="373.0" cy="686.2" r="3.05" fill="#000"/>
<circle cx="377.5" cy="686.2" r="3.05" fill="#fff"/>
<circle cx="379.0" cy="686.2" r="3.05" fill="#fff"/>
<circle cx="383.0" cy="686.2" r="3.05" fill="#fff"/>
<circle cx="386.5" cy="686.2" r="3.05" fill="#000"/>
<circle cx="389" cy="686.2" r="3.05" fill="#fff"/>
<circle cx="391.6" cy="686.2" r="3.05" fill="#000"/>
<circle cx="393" cy="686.2" r="3.05" fill="#fff"/>
<circle cx="395.6" cy="686.2" r="3.05" fill="#000"/>
<circle cx="398" cy="686.2" r="3.05" fill="#fff"/>
<circle cx="400.6" cy="686.2" r="3.05" fill="#000"/>
<circle cx="402.5" cy="686.2" r="3.05" fill="#fff"/>
<circle cx="406.1" cy="686.2" r="3.05" fill="#000"/>
<circle cx="408.6" cy="686.2" r="3.05" fill="#fff"/>
<circle cx="411.2" cy="686.2" r="3.05" fill="#000"/>
<circle cx="413.3" cy="686.2" r="3.05" fill="#fff"/>
<circle cx="415.9" cy="686.2" r="3.05" fill="#000"/>
<circle cx="418.2" cy="686.2" r="3.05" fill="#000"/>
<circle cx="419.4" cy="686.2" r="3.05" fill="#fff"/>
<circle cx="422.0" cy="686.2" r="3.05" fill="#000"/>
<circle cx="424" cy="686.2" r="3.05" fill="#fff"/>
<circle cx="426.6" cy="686.2" r="3.05" fill="#000"/>
<circle cx="428.7" cy="686.2" r="3.05" fill="#fff"/>
<circle cx="432.3" cy="686.2" r="3.05" fill="#000"/>
<circle cx="434.6" cy="686.2" r="3.05" fill="#000"/>
<circle cx="435.8" cy="686.2" r="3.05" fill="#fff"/>
<circle cx="438.4" cy="686.2" r="3.05" fill="#000"/>
<circle cx="440.4" cy="686.2" r="3.05" fill="#fff"/>
<circle cx="444.2" cy="686.2" r="3.05" fill="#000"/>
<circle cx="446.5" cy="686.2" r="3.05" fill="#000"/>
<circle cx="448" cy="686.2" r="3.05" fill="#fff"/>
<circle cx="454.5" cy="686.2" r="3.05" fill="#000"/>
<circle cx="456.6" cy="686.2" r="3.05" fill="#fff"/>
<circle cx="458.2" cy="686.2" r="3.05" fill="#000"/>
<circle cx="460.5" cy="686.2" r="3.05" fill="#000"/>
<circle cx="463" cy="686.2" r="3.05" fill="#fff"/>
<circle cx="465.5" cy="686.2" r="3.05" fill="#fff"/>
<circle cx="468.1" cy="686.2" r="3.05" fill="#000"/>
<circle cx="470" cy="686.2" r="3.05" fill="#fff"/>
<circle cx="472.6" cy="686.2" r="3.05" fill="#000"/>
<circle cx="475" cy="686.2" r="3.05" fill="#fff"/>
<circle cx="477.6" cy="686.2" r="3.05" fill="#000"/>
<circle cx="479.5" cy="686.2" r="3.05" fill="#fff"/>
<circle cx="482.1" cy="686.2" r="3.05" fill="#000"/>
<circle cx="484.7" cy="686.2" r="3.05" fill="#fff"/>
<circle cx="487.3" cy="686.2" r="3.05" fill="#000"/>
<circle cx="488.4" cy="686.2" r="3.05" fill="#fff"/>
<circle cx="490.0" cy="686.2" r="3.05" fill="#000"/>
<circle cx="492.3" cy="686.2" r="3.05" fill="#000"/>
<circle cx="493" cy="686.2" r="3.05" fill="#fff"/>
<circle cx="496.8" cy="686.2" r="3.05" fill="#000"/>
<circle cx="499.1" cy="686.2" r="3.05" fill="#000"/>
<circle cx="501" cy="686.2" r="3.05" fill="#fff"/>
<circle cx="504.8" cy="686.2" r="3.05" fill="#000"/>
<circle cx="506" cy="686.2" r="3.05" fill="#fff"/>
<circle cx="509" cy="686.2" r="3.05" fill="#fff"/>
<circle cx="511.8" cy="686.2" r="3.05" fill="#000"/>
<circle cx="514.1" cy="686.2" r="3.05" fill="#000"/>
<circle cx="516" cy="686.2" r="3.05" fill="#fff"/>
<circle cx="518.6" cy="686.2" r="3.05" fill="#000"/>
<circle cx="520.8" cy="686.2" r="3.05" fill="#fff"/>
<circle cx="523.4" cy="686.2" r="3.05" fill="#000"/>
<circle cx="524.5" cy="686.2" r="3.05" fill="#fff"/>
<circle cx="526.2" cy="686.2" r="3.05" fill="#000"/>
<circle cx="528.5" cy="686.2" r="3.05" fill="#000"/>
<circle cx="530.8" cy="686.2" r="3.05" fill="#000"/>
<circle cx="533.1" cy="686.2" r="3.05" fill="#000"/>
<circle cx="534.4" cy="686.2" r="3.05" fill="#fff"/>
<circle cx="537.7" cy="686.2" r="3.05" fill="#fff"/>
<circle cx="544.0" cy="686.2" r="3.05" fill="#000"/>
<circle cx="546.0" cy="686.2" r="3.05" fill="#000"/>
<circle cx="549.0" cy="686.2" r="3.05" fill="#000"/>
<circle cx="557.5" cy="686.2" r="3.05" fill="#fff"/>
<circle cx="559.5" cy="686.2" r="3.05" fill="#fff"/>
<circle cx="563.5" cy="686.2" r="3.05" fill="#fff"/>
<circle cx="569.0" cy="686.2" r="3.05" fill="#000"/>
<circle cx="570.0" cy="686.2" r="3.05" fill="#000"/>
<circle cx="577.0" cy="686.2" r="3.05" fill="#fff"/>
<circle cx="579.5" cy="686.2" r="3.05" fill="#fff"/>
<circle cx="582.0" cy="686.2" r="3.05" fill="#fff"/>
<circle cx="585.0" cy="686.2" r="3.05" fill="#000"/>
<circle cx="586.0" cy="686.2" r="3.05" fill="#000"/>
<circle cx="594.0" cy="686.2" r="3.05" fill="#fff"/>
<circle cx="595.5" cy="686.2" r="3.05" fill="#fff"/>
<circle cx="596.6" cy="686.2" r="3.05" fill="#fff"/>
<circle cx="605.9" cy="686.2" r="3.05" fill="#000"/>
<circle cx="607.8" cy="686.2" r="3.05" fill="#000"/>
<circle cx="618.1" cy="686.2" r="3.05" fill="#fff"/>
<circle cx="620.9" cy="686.2" r="3.05" fill="#fff"/>
<circle cx="623.8" cy="686.2" r="3.05" fill="#fff"/>
<circle cx="635.0" cy="686.2" r="3.05" fill="#000"/>
<circle cx="636.5" cy="686.2" r="3.05" fill="#000"/>
<circle cx="636.9" cy="686.2" r="3.05" fill="#000"/>
<circle cx="650.0" cy="686.2" r="3.05" fill="#fff"/>
<circle cx="651.9" cy="686.2" r="3.05" fill="#fff"/>
<circle cx="654.7" cy="686.2" r="3.05" fill="#fff"/>
<circle cx="663.1" cy="686.2" r="3.05" fill="#000"/>
<circle cx="668.8" cy="686.2" r="3.05" fill="#000"/>
<circle cx="673.4" cy="686.2" r="3.05" fill="#000"/>
<circle cx="681.3" cy="686.2" r="3.05" fill="#fff"/>
<circle cx="683.6" cy="686.2" r="3.05" fill="#fff"/>
<circle cx="685.6" cy="686.2" r="3.05" fill="#fff"/>
<circle cx="695.0" cy="686.2" r="3.05" fill="#000"/>
<circle cx="697.0" cy="686.2" r="3.05" fill="#000"/>
<circle cx="699.5" cy="686.2" r="3.05" fill="#000"/>
<circle cx="707.0" cy="686.2" r="3.05" fill="#fff"/>
<circle cx="711.5" cy="686.2" r="3.05" fill="#fff"/>
<circle cx="714.0" cy="686.2" r="3.05" fill="#fff"/>
<circle cx="725.0" cy="686.2" r="3.05" fill="#000"/>
<circle cx="727.5" cy="686.2" r="3.05" fill="#000"/>
<circle cx="729.5" cy="686.2" r="3.05" fill="#000"/>
<circle cx="736.5" cy="686.2" r="3.05" fill="#fff"/>
<circle cx="740.0" cy="686.2" r="3.05" fill="#fff"/>
<circle cx="742.5" cy="686.2" r="3.05" fill="#fff"/>
<circle cx="747.5" cy="686.2" r="3.05" fill="#000"/>
<circle cx="755.0" cy="686.2" r="3.05" fill="#fff"/>
<circle cx="757.0" cy="686.2" r="3.05" fill="#fff"/>
<circle cx="760.5" cy="686.2" r="3.05" fill="#fff"/>
<circle cx="765.6" cy="686.2" r="3.05" fill="#000"/>
<circle cx="770.1" cy="686.2" r="3.05" fill="#000"/>
<circle cx="773.5" cy="686.2" r="3.05" fill="#000"/>
<circle cx="778.0" cy="686.2" r="3.05" fill="#000"/>
<circle cx="782.5" cy="686.2" r="3.05" fill="#000"/>
<circle cx="784.8" cy="686.2" r="3.05" fill="#fff"/>
<circle cx="787.0" cy="686.2" r="3.05" fill="#fff"/>
<circle cx="789.7" cy="686.2" r="3.05" fill="#fff"/>
<circle cx="792.6" cy="686.2" r="3.05" fill="#000"/>
<circle cx="801.6" cy="686.2" r="3.05" fill="#000"/>
<circle cx="811.3" cy="686.2" r="3.05" fill="#fff"/>
<circle cx="814.0" cy="686.2" r="3.05" fill="#fff"/>
<circle cx="833.1" cy="686.2" r="3.05" fill="#000"/>
<circle cx="835.4" cy="686.2" r="3.05" fill="#000"/>
<circle cx="844.4" cy="686.2" r="3.05" fill="#fff"/>
<circle cx="846.6" cy="686.2" r="3.05" fill="#fff"/>
<circle cx="854.5" cy="686.2" r="3.05" fill="#000"/>
<circle cx="856.8" cy="686.2" r="3.05" fill="#000"/>
<circle cx="869.0" cy="686.2" r="3.05" fill="#fff"/>
<circle cx="873.0" cy="686.2" r="3.05" fill="#fff"/>
<circle cx="876.0" cy="686.2" r="3.05" fill="#fff"/>
<circle cx="885.0" cy="686.2" r="3.05" fill="#000"/>
<circle cx="887.0" cy="686.2" r="3.05" fill="#000"/>
<circle cx="891.0" cy="686.2" r="3.05" fill="#000"/>
<circle cx="896.0" cy="686.2" r="3.05" fill="#fff"/>
<circle cx="900.0" cy="686.2" r="3.05" fill="#fff"/>
<circle cx="908.0" cy="686.2" r="3.05" fill="#000"/>
<circle cx="911.0" cy="686.2" r="3.05" fill="#000"/>
<circle cx="917.0" cy="686.2" r="3.05" fill="#fff"/>
<circle cx="920.0" cy="686.2" r="3.05" fill="#fff"/>
<circle cx="921.0" cy="686.2" r="3.05" fill="#fff"/>
<circle cx="925.5" cy="686.2" r="3.05" fill="#000"/>
<circle cx="927.7" cy="686.2" r="3.05" fill="#fff"/>
<circle cx="929.6" cy="686.2" r="3.05" fill="#000"/>
<circle cx="931.4" cy="686.2" r="3.05" fill="#fff"/>
<circle cx="933.4" cy="686.2" r="3.05" fill="#000"/>
<circle cx="935.3" cy="686.2" r="3.05" fill="#fff"/>
<circle cx="937.6" cy="686.2" r="3.05" fill="#000"/>
<circle cx="942" cy="686.2" r="3.05" fill="#fff"/>
<circle cx="952" cy="686.2" r="3.05" fill="#000"/>
<circle cx="956.5" cy="686.2" r="3.05" fill="#fff"/>
<circle cx="960" cy="686.2" r="3.05" fill="#000"/>
<circle cx="962.5" cy="686.2" r="3.05" fill="#fff"/>
<circle cx="965" cy="686.2" r="3.05" fill="#000"/>
<circle cx="968.5" cy="686.2" r="3.05" fill="#fff"/>
<circle cx="971.5" cy="686.2" r="3.05" fill="#000"/>
<circle cx="973.5" cy="686.2" r="3.05" fill="#fff"/>
<circle cx="977" cy="686.2" r="3.05" fill="#000"/>
<circle cx="986.0" cy="686.2" r="3.05" fill="#fff"/>
<circle cx="993.0" cy="686.2" r="3.05" fill="#fff"/>
<circle cx="994.0" cy="686.2" r="3.05" fill="#fff"/>
<circle cx="1005.0" cy="686.2" r="3.05" fill="#000"/>
<circle cx="1010.0" cy="686.2" r="3.05" fill="#000"/>
<circle cx="1015.0" cy="686.2" r="3.05" fill="#000"/>
<circle cx="1023.0" cy="686.2" r="3.05" fill="#fff"/>
<circle cx="1025.4" cy="686.2" r="3.05" fill="#fff"/>
<circle cx="1039.0" cy="686.2" r="3.05" fill="#000"/>
<circle cx="1040.0" cy="686.2" r="3.05" fill="#000"/>
<circle cx="1042.0" cy="686.2" r="3.05" fill="#000"/>
<circle cx="1055.0" cy="686.2" r="3.05" fill="#fff"/>
<circle cx="1059.0" cy="686.2" r="3.05" fill="#fff"/>
<circle cx="1066.0" cy="686.2" r="3.05" fill="#fff"/>
<circle cx="1071.5" cy="686.2" r="3.05" fill="#000"/>
<circle cx="1075.0" cy="686.2" r="3.05" fill="#000"/>
<circle cx="1080.5" cy="686.2" r="3.05" fill="#fff"/>
<circle cx="1084.0" cy="686.2" r="3.05" fill="#fff"/>
<circle cx="1086.5" cy="686.2" r="3.05" fill="#000"/>
<circle cx="1090.0" cy="686.2" r="3.05" fill="#000"/>
<circle cx="1096.0" cy="686.2" r="3.05" fill="#fff"/>
<circle cx="1098.5" cy="686.2" r="3.05" fill="#fff"/>
<circle cx="1103.0" cy="686.2" r="3.05" fill="#fff"/>
<circle cx="1105.5" cy="686.2" r="3.05" fill="#000"/>
<circle cx="1110.0" cy="686.2" r="3.05" fill="#fff"/>
<circle cx="1119.0" cy="686.2" r="3.05" fill="#000"/>
<circle cx="1121.0" cy="686.2" r="3.05" fill="#000"/>
<circle cx="1126.0" cy="686.2" r="3.05" fill="#000"/>
<circle cx="1131.0" cy="686.2" r="3.05" fill="#fff"/>
<circle cx="1135.0" cy="686.2" r="3.05" fill="#fff"/>
<circle cx="1138.5" cy="686.2" r="3.05" fill="#fff"/>
<circle cx="1144.0" cy="686.2" r="3.05" fill="#000"/>
<circle cx="1146.0" cy="686.2" r="3.05" fill="#000"/>
<circle cx="1147.0" cy="686.2" r="3.05" fill="#000"/>
<circle cx="1156.0" cy="686.2" r="3.05" fill="#fff"/>
<circle cx="1158.5" cy="686.2" r="3.05" fill="#fff"/>
<circle cx="1167.0" cy="686.2" r="3.05" fill="#000"/>
<circle cx="1171.0" cy="686.2" r="3.05" fill="#000"/>
<circle cx="1173.5" cy="686.2" r="3.05" fill="#000"/>
<circle cx="1182.5" cy="686.2" r="3.05" fill="#fff"/>
<circle cx="1187.0" cy="686.2" r="3.05" fill="#000"/>
<circle cx="1188.0" cy="686.2" r="3.05" fill="#000"/>
<circle cx="1192.0" cy="686.2" r="3.05" fill="#000"/>
<circle cx="1193.0" cy="686.2" r="3.05" fill="#fff"/>
<circle cx="1196.0" cy="686.2" r="3.05" fill="#fff"/>
<circle cx="1200.5" cy="686.2" r="3.05" fill="#000"/>
<circle cx="1203.5" cy="686.2" r="3.05" fill="#fff"/>
<circle cx="1205.5" cy="686.2" r="3.05" fill="#000"/>
</g>
<g font-size="13.2" text-anchor="middle" fill="#000" stroke="#000" stroke-width="0.3">
<text transform="translate(154.3 658) rotate(-90) scale(1 1.08)">G135</text>
<text transform="translate(171.6 658) rotate(-90) scale(1 1.08)">H2O2</text>
<text transform="translate(189.0 658) rotate(-90) scale(1 1.08)">Oxctl</text>
<text transform="translate(211.3 658) rotate(-90) scale(1 1.08)">dia15</text>
<text transform="translate(238.5 658) rotate(-90) scale(1 1.08)">dia5</text>
<text transform="translate(268.5 658) rotate(-90) scale(1 1.08)">C30</text>
<text transform="translate(296.6 658) rotate(-90) scale(1 1.08)">LPh</text>
<text transform="translate(313.7 658) rotate(-90) scale(1 1.08)">aero</text>
<text transform="translate(344.0 658) rotate(-90) scale(1 1.08)">ferm</text>
<text transform="translate(366.0 658) rotate(-90) scale(1 1.08)">M9−tran</text>
<text transform="translate(383.3 658) rotate(-90) scale(1 1.08)">MG+120</text>
<text transform="translate(392.5 658) rotate(-90) scale(1 1.08)">MG+60</text>
<text transform="translate(395.4 658) rotate(-90) scale(1 1.08)">MG+60</text>
<text transform="translate(399.5 658) rotate(-90) scale(1 1.08)">MG+25</text>
<text transform="translate(403.5 658) rotate(-90) scale(1 1.08)">MG+25</text>
<text transform="translate(407.5 658) rotate(-90) scale(1 1.08)">MG+10</text>
<text transform="translate(411.5 658) rotate(-90) scale(1 1.08)">MG+10</text>
<text transform="translate(415.5 658) rotate(-90) scale(1 1.08)">MG+t5</text>
<text transform="translate(419.5 658) rotate(-90) scale(1 1.08)">MG+t5</text>
<text transform="translate(423.5 658) rotate(-90) scale(1 1.08)">MG+60</text>
<text transform="translate(427.5 658) rotate(-90) scale(1 1.08)">MG+25</text>
<text transform="translate(431.5 658) rotate(-90) scale(1 1.08)">MG+10</text>
<text transform="translate(434.6 658) rotate(-90) scale(1 1.08)">MG+t5</text>
<text transform="translate(443.0 658) rotate(-90) scale(1 1.08)">MG−0.2</text>
<text transform="translate(446.3 658) rotate(-90) scale(1 1.08)">MG−0.2</text>
<text transform="translate(451.0 658) rotate(-90) scale(1 1.08)">Fru</text>
<text transform="translate(465.0 658) rotate(-90) scale(1 1.08)">GM−0.2</text>
<text transform="translate(468.5 658) rotate(-90) scale(1 1.08)">GM−0.2</text>
<text transform="translate(475.0 658) rotate(-90) scale(1 1.08)">GM+5</text>
<text transform="translate(479.0 658) rotate(-90) scale(1 1.08)">GM+15</text>
<text transform="translate(483.0 658) rotate(-90) scale(1 1.08)">GM+25</text>
<text transform="translate(487.0 658) rotate(-90) scale(1 1.08)">GM+10</text>
<text transform="translate(491.0 658) rotate(-90) scale(1 1.08)">GM+25</text>
<text transform="translate(495.0 658) rotate(-90) scale(1 1.08)">GM+45</text>
<text transform="translate(499.0 658) rotate(-90) scale(1 1.08)">GM+60</text>
<text transform="translate(503.0 658) rotate(-90) scale(1 1.08)">GM+90</text>
<text transform="translate(511.6 658) rotate(-90) scale(1 1.08)">GM+150</text>
<text transform="translate(520.0 658) rotate(-90) scale(1 1.08)">GM+60</text>
<text transform="translate(524.0 658) rotate(-90) scale(1 1.08)">GM+45</text>
<text transform="translate(528.0 658) rotate(-90) scale(1 1.08)">GM+25</text>
<text transform="translate(540.6 658) rotate(-90) scale(1 1.08)">M9−exp</text>
<text transform="translate(562.0 658) rotate(-90) scale(1 1.08)">Mal</text>
<text transform="translate(581.6 658) rotate(-90) scale(1 1.08)">Glu</text>
<text transform="translate(598.4 658) rotate(-90) scale(1 1.08)">BMM</text>
<text transform="translate(624.7 658) rotate(-90) scale(1 1.08)">Etha</text>
<text transform="translate(652.8 658) rotate(-90) scale(1 1.08)">Gly</text>
<text transform="translate(687.0 658) rotate(-90) scale(1 1.08)">HiOs</text>
<text transform="translate(713.4 658) rotate(-90) scale(1 1.08)">S2</text>
<text transform="translate(741.5 658) rotate(-90) scale(1 1.08)">S4</text>
<text transform="translate(760.6 658) rotate(-90) scale(1 1.08)">S5</text>
<text transform="translate(789.8 658) rotate(-90) scale(1 1.08)">S7</text>
<text transform="translate(816.6 658) rotate(-90) scale(1 1.08)">S6</text>
<text transform="translate(849.0 658) rotate(-90) scale(1 1.08)">B36</text>
<text transform="translate(875.2 658) rotate(-90) scale(1 1.08)">LoTm</text>
<text transform="translate(902.2 658) rotate(-90) scale(1 1.08)">G/S</text>
<text transform="translate(923.4 658) rotate(-90) scale(1 1.08)">SMMPr</text>
<text transform="translate(935.6 658) rotate(-90) scale(1 1.08)">T−4.40H</text>
<text transform="translate(938.5 658) rotate(-90) scale(1 1.08)">T−2.40H</text>
<text transform="translate(941.5 658) rotate(-90) scale(1 1.08)">T−0.40H</text>
<text transform="translate(946.0 658) rotate(-90) scale(1 1.08)">T0.0H</text>
<text transform="translate(961.0 658) rotate(-90) scale(1 1.08)">T1.0H</text>
<text transform="translate(965.6 658) rotate(-90) scale(1 1.08)">T2.0H</text>
<text transform="translate(970.0 658) rotate(-90) scale(1 1.08)">T3.0H</text>
<text transform="translate(975.0 658) rotate(-90) scale(1 1.08)">T4.0H</text>
<text transform="translate(991.5 658) rotate(-90) scale(1 1.08)">M9−stat</text>
<text transform="translate(1027.8 658) rotate(-90) scale(1 1.08)">Sw</text>
<text transform="translate(1061.0 658) rotate(-90) scale(1 1.08)">LBGstat</text>
<text transform="translate(1086.2 658) rotate(-90) scale(1 1.08)">M0t45</text>
<text transform="translate(1101.2 658) rotate(-90) scale(1 1.08)">Lbtran</text>
<text transform="translate(1114.8 658) rotate(-90) scale(1 1.08)">M40t45</text>
<text transform="translate(1137.0 658) rotate(-90) scale(1 1.08)">M0t90</text>
<text transform="translate(1161.6 658) rotate(-90) scale(1 1.08)">BI</text>
<text transform="translate(1187.5 658) rotate(-90) scale(1 1.08)">M0t45</text>
<text transform="translate(1200.6 658) rotate(-90) scale(1 1.08)">Lbexp</text>
<text transform="translate(1206.0 658) rotate(-90) scale(1 1.08)">Lbexp</text>
<text transform="translate(144.4 715.3) rotate(-90) scale(1 1.08)">G150</text>
<text transform="translate(160.0 715.3) rotate(-90) scale(1 1.08)">G180</text>
<text transform="translate(179.6 715.3) rotate(-90) scale(1 1.08)">Paraq</text>
<text transform="translate(197.8 715.3) rotate(-90) scale(1 1.08)">LBGexp</text>
<text transform="translate(227.2 715.3) rotate(-90) scale(1 1.08)">Diami</text>
<text transform="translate(255.4 715.3) rotate(-90) scale(1 1.08)">C90</text>
<text transform="translate(282.2 715.3) rotate(-90) scale(1 1.08)">Cold</text>
<text transform="translate(304.7 715.3) rotate(-90) scale(1 1.08)">HPh</text>
<text transform="translate(331.9 715.3) rotate(-90) scale(1 1.08)">nit</text>
<text transform="translate(360.3 715.3) rotate(-90) scale(1 1.08)">GM+150</text>
<text transform="translate(375.3 715.3) rotate(-90) scale(1 1.08)">MG+150</text>
<text transform="translate(390.6 715.3) rotate(-90) scale(1 1.08)">MG+90</text>
<text transform="translate(393.4 715.3) rotate(-90) scale(1 1.08)">MG+90</text>
<text transform="translate(397.5 715.3) rotate(-90) scale(1 1.08)">MG+45</text>
<text transform="translate(401.5 715.3) rotate(-90) scale(1 1.08)">MG+45</text>
<text transform="translate(405.5 715.3) rotate(-90) scale(1 1.08)">MG+15</text>
<text transform="translate(409.5 715.3) rotate(-90) scale(1 1.08)">MG+15</text>
<text transform="translate(413.5 715.3) rotate(-90) scale(1 1.08)">MG+05</text>
<text transform="translate(417.5 715.3) rotate(-90) scale(1 1.08)">MG+05</text>
<text transform="translate(421.5 715.3) rotate(-90) scale(1 1.08)">MG+45</text>
<text transform="translate(425.5 715.3) rotate(-90) scale(1 1.08)">MG+15</text>
<text transform="translate(428.5 715.3) rotate(-90) scale(1 1.08)">MG+05</text>
<text transform="translate(430.5 715.3) rotate(-90) scale(1 1.08)">MG+05</text>
<text transform="translate(439.0 715.3) rotate(-90) scale(1 1.08)">MG−0.1</text>
<text transform="translate(444.0 715.3) rotate(-90) scale(1 1.08)">MG−0.1</text>
<text transform="translate(450.5 715.3) rotate(-90) scale(1 1.08)">UNK1</text>
<text transform="translate(460.0 715.3) rotate(-90) scale(1 1.08)">Glucon</text>
<text transform="translate(466.0 715.3) rotate(-90) scale(1 1.08)">GM−0.1</text>
<text transform="translate(470.0 715.3) rotate(-90) scale(1 1.08)">GM−0.1</text>
<text transform="translate(476.0 715.3) rotate(-90) scale(1 1.08)">GM+5</text>
<text transform="translate(480.0 715.3) rotate(-90) scale(1 1.08)">GM+10</text>
<text transform="translate(484.0 715.3) rotate(-90) scale(1 1.08)">GM+15</text>
<text transform="translate(488.0 715.3) rotate(-90) scale(1 1.08)">GM+25</text>
<text transform="translate(492.0 715.3) rotate(-90) scale(1 1.08)">GM+45</text>
<text transform="translate(496.0 715.3) rotate(-90) scale(1 1.08)">GM+60</text>
<text transform="translate(503.0 715.3) rotate(-90) scale(1 1.08)">GM+120</text>
<text transform="translate(507.8 715.3) rotate(-90) scale(1 1.08)">GM+120</text>
<text transform="translate(516.0 715.3) rotate(-90) scale(1 1.08)">GM+90</text>
<text transform="translate(519.0 715.3) rotate(-90) scale(1 1.08)">GM+90</text>
<text transform="translate(523.0 715.3) rotate(-90) scale(1 1.08)">GM+25</text>
<text transform="translate(527.0 715.3) rotate(-90) scale(1 1.08)">GM+10</text>
<text transform="translate(532.0 715.3) rotate(-90) scale(1 1.08)">GM+5</text>
<text transform="translate(548.0 715.3) rotate(-90) scale(1 1.08)">M/G</text>
<text transform="translate(575.0 715.3) rotate(-90) scale(1 1.08)">Fru</text>
<text transform="translate(590.4 715.3) rotate(-90) scale(1 1.08)">SMM</text>
<text transform="translate(609.3 715.3) rotate(-90) scale(1 1.08)">Heat</text>
<text transform="translate(640.2 715.3) rotate(-90) scale(1 1.08)">Salt</text>
<text transform="translate(668.4 715.3) rotate(-90) scale(1 1.08)">HiTm</text>
<text transform="translate(700.2 715.3) rotate(-90) scale(1 1.08)">S1</text>
<text transform="translate(730.2 715.3) rotate(-90) scale(1 1.08)">S3</text>
<text transform="translate(752.8 715.3) rotate(-90) scale(1 1.08)">S3</text>
<text transform="translate(771.0 715.3) rotate(-90) scale(1 1.08)">S6</text>
<text transform="translate(797.2 715.3) rotate(-90) scale(1 1.08)">S8</text>
<text transform="translate(837.2 715.3) rotate(-90) scale(1 1.08)">BT</text>
<text transform="translate(857.8 715.3) rotate(-90) scale(1 1.08)">B60</text>
<text transform="translate(888.8 715.3) rotate(-90) scale(1 1.08)">Pyr</text>
<text transform="translate(913.0 715.3) rotate(-90) scale(1 1.08)">Glucon</text>
<text transform="translate(932.0 715.3) rotate(-90) scale(1 1.08)">T−5.40H</text>
<text transform="translate(936.5 715.3) rotate(-90) scale(1 1.08)">T−3.40H</text>
<text transform="translate(941.0 715.3) rotate(-90) scale(1 1.08)">T−1.40H</text>
<text transform="translate(958.0 715.3) rotate(-90) scale(1 1.08)">T0.30H</text>
<text transform="translate(962.8 715.3) rotate(-90) scale(1 1.08)">T1.30H</text>
<text transform="translate(967.5 715.3) rotate(-90) scale(1 1.08)">T2.30H</text>
<text transform="translate(972.0 715.3) rotate(-90) scale(1 1.08)">T3.30H</text>
<text transform="translate(981.5 715.3) rotate(-90) scale(1 1.08)">T5.0H</text>
<text transform="translate(1010.3 715.3) rotate(-90) scale(1 1.08)">BC</text>
<text transform="translate(1044.0 715.3) rotate(-90) scale(1 1.08)">LPhT</text>
<text transform="translate(1077.0 715.3) rotate(-90) scale(1 1.08)">LBGtran</text>
<text transform="translate(1092.0 715.3) rotate(-90) scale(1 1.08)">M40t45</text>
<text transform="translate(1111.5 715.3) rotate(-90) scale(1 1.08)">Mt0</text>
<text transform="translate(1123.8 715.3) rotate(-90) scale(1 1.08)">M40t90</text>
<text transform="translate(1148.5 715.3) rotate(-90) scale(1 1.08)">Lbstat</text>
<text transform="translate(1172.5 715.3) rotate(-90) scale(1 1.08)">S0</text>
<text transform="translate(1191.2 715.3) rotate(-90) scale(1 1.08)">dia0</text>
<text transform="translate(1203.4 715.3) rotate(-90) scale(1 1.08)">Mt0</text>
<text transform="translate(1209.0 715.3) rotate(-90) scale(1 1.08)">Mt0</text>
</g>
</svg></body></html>
